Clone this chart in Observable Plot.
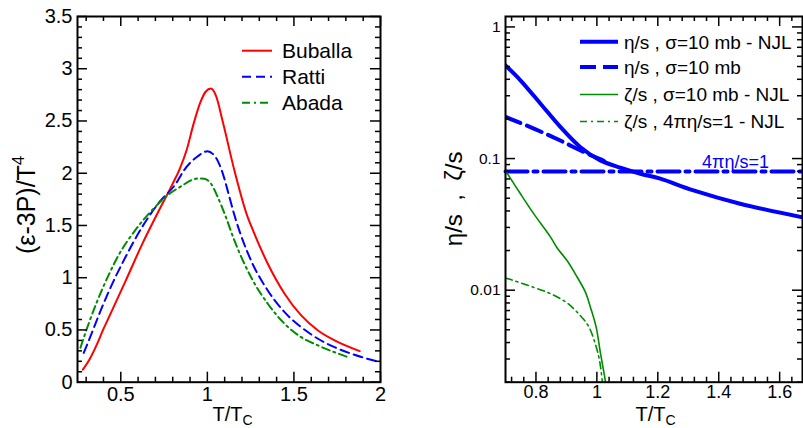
<!DOCTYPE html>
<html><head><meta charset="utf-8">
<script src="https://cdn.jsdelivr.net/npm/d3@7"></script>
<script src="https://cdn.jsdelivr.net/npm/@observablehq/plot@0.6"></script>
<style>
body{margin:0;background:#fff;}
#wrap{display:flex;width:803px;height:428px;overflow:hidden;background:#fff;}
svg{display:block;}
</style></head><body><div id="wrap"></div>
<script>
// ---------- Left panel data: (e-3P)/T^4 vs T/Tc ----------
const bubX = [0.281,0.32,0.364,0.40,0.431,0.528,0.625,0.721,0.80,0.84,0.88,0.92,0.96,0.99,1.021,1.05,1.088,1.156,1.233,1.252,1.349,1.446,1.542,1.639,1.735,1.88];
const bubY = [0.12,0.22,0.37,0.51,0.62,0.97,1.326,1.645,1.90,2.04,2.22,2.47,2.68,2.78,2.81,2.74,2.50,2.028,1.58,1.50,1.134,0.847,0.639,0.495,0.40,0.297];
const ratX = [0.286,0.33,0.38,0.431,0.528,0.625,0.721,0.818,0.866,0.943,1.0,1.04,1.068,1.098,1.117,1.156,1.252,1.349,1.446,1.542,1.639,1.735,1.832,2.0];
const ratY = [0.28,0.46,0.67,0.87,1.20,1.49,1.72,1.90,2.03,2.16,2.21,2.17,2.09,1.95,1.836,1.60,1.166,0.878,0.67,0.527,0.416,0.335,0.272,0.19];
const abaX = [0.267,0.31,0.36,0.431,0.489,0.586,0.683,0.779,0.857,0.905,0.95,0.982,1.021,1.06,1.107,1.156,1.252,1.349,1.446,1.542,1.639,1.812];
const abaY = [0.33,0.54,0.76,1.03,1.22,1.46,1.65,1.80,1.884,1.932,1.95,1.948,1.90,1.772,1.58,1.357,1.006,0.751,0.559,0.431,0.352,0.24];
const leftNames = ["Buballa","Ratti","Abada"];
const leftXTicks = [0.5,1,1.5,2];
const leftXTickLabels = ["0.5","1","1.5","2"];
const leftYTicks = [0,0.5,1,1.5,2,2.5,3,3.5];
const leftYTickLabels = ["0","0.5","1","1.5","2","2.5","3","3.5"];

// ---------- Right panel data: eta/s, zeta/s vs T/Tc ----------
const etaNjlX = [0.70,0.749,0.815,0.880,0.946,1.011,1.077,1.143,1.208,1.317,1.47,1.675];
const etaNjlY = [0.51,0.393,0.261,0.174,0.122,0.0969,0.0853,0.0767,0.0703,0.0573,0.0454,0.0358];
const etaX = [0.70,0.793,0.880,0.957,1.011,1.04];
const etaY = [0.207,0.169,0.137,0.112,0.099,0.092];
const zetaNjlX = [0.703,0.749,0.793,0.848,0.869,0.902,0.935,0.962,0.979,0.998,1.011,1.022,1.03];
const zetaNjlY = [0.0789,0.054,0.038,0.0253,0.021,0.0168,0.0126,0.0097,0.0074,0.0052,0.0034,0.00245,0.0019];
const zetaKssX = [0.70,0.793,0.848,0.902,0.946,0.973,0.995,1.009,1.019];
const zetaKssY = [0.0124,0.0105,0.0094,0.0080,0.0064,0.0053,0.0039,0.0029,0.0019];
const kssX = [0.70,1.675];
const kssY = [0.0796,0.0796];
const rightNames = ["η/s , σ=10 mb - NJL","η/s , σ=10 mb","ζ/s , σ=10 mb - NJL","ζ/s , 4πη/s=1 - NJL"];
const rightXTicks = [0.8,1.0,1.2,1.4,1.6];
const rightXTickLabels = ["0.8","1","1.2","1.4","1.6"];
const rightYTicks = [0.01,0.1,1];
const rightYTickLabels = ["0.01","0.1","1"];

const zip = (xs, ys) => xs.map((x, i) => ({x, y: ys[i]}));
const FONT = "'Liberation Sans', Arial, Helvetica, sans-serif";
const RED = "#ff0000", BLUE = "#0000ff", GREEN = "#008c00";
const H = 428, mT = 16, mB = 46.3;
const frameH = H - mT - mB;
const tk = {stroke: "black", strokeWidth: 1.5};

// ---------- Left plot ----------
const W1 = 400, mL1 = 77, mR1 = 20;
const frameW1 = W1 - mL1 - mR1;
const lxMinor = d3.range(3, 20).map(k => k / 10).filter(v => !leftXTicks.some(t => Math.abs(t - v) < 1e-9));
const lyMinor = d3.range(1, 35).map(k => k / 10).filter(v => !leftYTicks.some(t => Math.abs(t - v) < 1e-9));
const left = Plot.plot({
  width: W1, height: H, marginLeft: mL1, marginRight: mR1, marginTop: mT, marginBottom: mB,
  style: {fontFamily: FONT, background: "white", overflow: "visible", color: "black"},
  x: {domain: [0.25, 2]},
  y: {domain: [0, 3.5]},
  marks: [
    Plot.line(zip(bubX, bubY), {x: "x", y: "y", stroke: RED, strokeWidth: 2, curve: "monotone-x"}),
    Plot.line(zip(ratX, ratY), {x: "x", y: "y", stroke: BLUE, strokeWidth: 2, strokeDasharray: "9,5", curve: "monotone-x"}),
    Plot.line(zip(abaX, abaY), {x: "x", y: "y", stroke: GREEN, strokeWidth: 2, strokeDasharray: "8,4,2,4", curve: "monotone-x"}),
    Plot.tickX(leftXTicks, {x: d => d, insetTop: frameH - 10, ...tk}),
    Plot.tickX(leftXTicks, {x: d => d, insetBottom: frameH - 10, ...tk}),
    Plot.tickX(lxMinor, {x: d => d, insetTop: frameH - 5, ...tk}),
    Plot.tickX(lxMinor, {x: d => d, insetBottom: frameH - 5, ...tk}),
    Plot.tickY(leftYTicks, {y: d => d, insetRight: frameW1 - 10, ...tk}),
    Plot.tickY(leftYTicks, {y: d => d, insetLeft: frameW1 - 10, ...tk}),
    Plot.tickY(lyMinor, {y: d => d, insetRight: frameW1 - 5, ...tk}),
    Plot.tickY(lyMinor, {y: d => d, insetLeft: frameW1 - 5, ...tk}),
    Plot.axisX({ticks: leftXTicks, tickSize: 0, tickPadding: 5, fontSize: 20, fontFamily: FONT,
      tickFormat: d => leftXTickLabels[leftXTicks.indexOf(d)], label: null}),
    Plot.axisY({ticks: leftYTicks, tickSize: 0, tickPadding: 5, fontSize: 20, fontFamily: FONT,
      tickFormat: d => leftYTickLabels[leftYTicks.indexOf(d)], label: null}),
    Plot.frame({stroke: "black", strokeWidth: 2})
  ]
});

// ---------- Right plot ----------
const W2 = 403, mL2 = 105, mR2 = 1;
const frameW2 = W2 - mL2 - mR2;
const rxMinor = d3.range(18, 42).map(k => k * 0.04).filter(v => v > 0.7 && v < 1.675 && !rightXTicks.some(t => Math.abs(t - v) < 1e-9));
const ryMinor = [];
[0.001, 0.01, 0.1].forEach(dec => { for (let k = 2; k <= 9; k++) { const v = k * dec; if (v >= 0.002 && v <= 1.2) ryMinor.push(v); } });
const right = Plot.plot({
  width: W2, height: H, marginLeft: mL2, marginRight: mR2, marginTop: mT, marginBottom: mB,
  style: {fontFamily: FONT, background: "white", overflow: "visible", color: "black"},
  x: {domain: [0.7, 1.675]},
  y: {type: "log", domain: [0.002, 1.2]},
  marks: [
    Plot.line(zip(kssX, kssY), {x: "x", y: "y", stroke: BLUE, strokeWidth: 4, strokeDasharray: "22,6,4,6"}),
    Plot.line(zip(etaX, etaY), {x: "x", y: "y", stroke: BLUE, strokeWidth: 4, strokeDasharray: "16,7", curve: "catmull-rom", clip: true}),
    Plot.line(zip(etaNjlX, etaNjlY), {x: "x", y: "y", stroke: BLUE, strokeWidth: 4, curve: "catmull-rom", clip: true}),
    Plot.line(zip(zetaNjlX, zetaNjlY), {x: "x", y: "y", stroke: GREEN, strokeWidth: 1.6, curve: "catmull-rom", clip: true}),
    Plot.line(zip(zetaKssX, zetaKssY), {x: "x", y: "y", stroke: GREEN, strokeWidth: 1.6, strokeDasharray: "7,4,2,4", curve: "catmull-rom", clip: true}),
    Plot.text([{x: 1.455, y: kssY[0], t: "4πη/s=1"}], {x: "x", y: "y", text: "t", fill: BLUE, fontSize: 18, fontFamily: FONT, lineAnchor: "bottom", dy: -4}),
    Plot.tickX(rightXTicks, {x: d => d, insetTop: frameH - 10, ...tk}),
    Plot.tickX(rightXTicks, {x: d => d, insetBottom: frameH - 10, ...tk}),
    Plot.tickX(rxMinor, {x: d => d, insetTop: frameH - 5, ...tk}),
    Plot.tickX(rxMinor, {x: d => d, insetBottom: frameH - 5, ...tk}),
    Plot.tickY(rightYTicks, {y: d => d, insetRight: frameW2 - 10, ...tk}),
    Plot.tickY(rightYTicks, {y: d => d, insetLeft: frameW2 - 10, ...tk}),
    Plot.tickY(ryMinor, {y: d => d, insetRight: frameW2 - 5, ...tk}),
    Plot.tickY(ryMinor, {y: d => d, insetLeft: frameW2 - 5, ...tk}),
    Plot.axisX({ticks: rightXTicks, tickSize: 0, tickPadding: 3, fontSize: 18, fontFamily: FONT,
      tickFormat: d => rightXTickLabels[rightXTicks.indexOf(d)], label: null}),
    Plot.axisY({ticks: rightYTicks, tickSize: 0, tickPadding: 5, fontSize: 15.5, fontFamily: FONT,
      tickFormat: d => rightYTickLabels[rightYTicks.indexOf(d)], label: null}),
    Plot.frame({stroke: "black", strokeWidth: 2})
  ]
});

// ---------- Legends and axis titles ----------
function addLegend(svg, items, x0, x1, tx, ys, fs) {
  const g = d3.select(svg).append("g").attr("font-family", FONT).attr("font-size", fs).attr("text-anchor", "start");
  items.forEach((it, i) => {
    g.append("line").attr("x1", x0).attr("x2", x1).attr("y1", ys[i]).attr("y2", ys[i])
      .attr("stroke", it.color).attr("stroke-width", it.w).attr("stroke-dasharray", it.dash || null);
    g.append("text").attr("x", tx).attr("y", ys[i]).attr("dy", "0.36em").attr("text-anchor", "start")
      .attr("fill", "black").text(it.name);
  });
}
addLegend(left, [
  {name: leftNames[0], color: RED, w: 2},
  {name: leftNames[1], color: BLUE, w: 2, dash: "9,5"},
  {name: leftNames[2], color: GREEN, w: 2, dash: "8,4,2,4"}
], 242, 272, 282, [50.7, 76.7, 102.7], 21);
addLegend(right, [
  {name: rightNames[0], color: BLUE, w: 4},
  {name: rightNames[1], color: BLUE, w: 4, dash: "16,7"},
  {name: rightNames[2], color: GREEN, w: 1.6},
  {name: rightNames[3], color: GREEN, w: 1.6, dash: "7,4,2,4"}
], 180, 218, 224, [41.7, 67, 94.5, 121.5], 19);

function xTitle(svg, cx) {
  const t = d3.select(svg).append("text").attr("x", cx).attr("y", 421).attr("text-anchor", "middle")
    .attr("font-family", FONT).attr("font-size", 20).attr("fill", "black");
  t.append("tspan").text("T/T");
  t.append("tspan").attr("font-size", 14).attr("dy", 4).text("C");
}
xTitle(left, mL1 + frameW1 / 2 + 4);
xTitle(right, mL2 + frameW2 / 2 + 2);

{
  const t = d3.select(left).append("text").attr("transform", `translate(35,${mT + frameH / 2 + 6}) rotate(-90)`)
    .attr("text-anchor", "middle").attr("font-family", FONT).attr("font-size", 25).attr("fill", "black");
  t.append("tspan").text("(ε-3P)/T");
  t.append("tspan").attr("font-size", 17).attr("dy", -11).text("4");
}
{
  d3.select(right).append("text").attr("transform", `translate(${462 - 400},${mT + frameH / 2}) rotate(-90)`)
    .attr("text-anchor", "middle").attr("font-family", FONT).attr("font-size", 24).attr("fill", "black")
    .style("white-space", "pre")
    .text("η/s  ,  ζ/s");
}

document.getElementById("wrap").append(left, right);
</script></body></html>
